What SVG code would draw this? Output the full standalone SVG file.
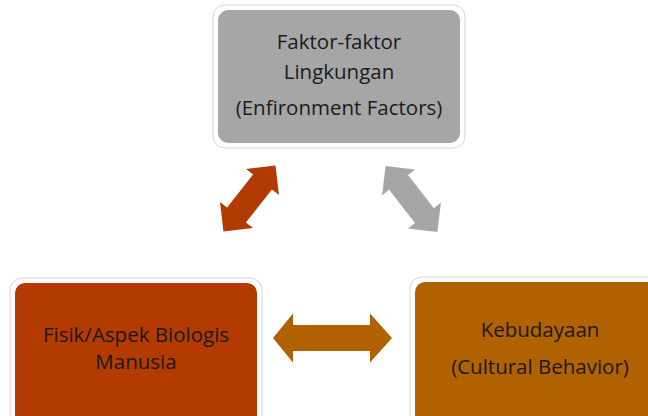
<svg xmlns="http://www.w3.org/2000/svg" width="648" height="416" viewBox="0 0 648 416">
<style>
.frame{fill:#ffffff;stroke:#d4d4d4;stroke-width:1}
.lbl{font-family:"Open Sans","Noto Sans","Liberation Sans",sans-serif;font-size:20.5px;text-anchor:middle;fill:#1a1a1a}
</style>
<defs>
<polygon id="dbl" points="-42,0 -21,-21 -21,-12 21,-12 21,-21 42,0 21,21 21,12 -21,12 -21,21"/>
</defs>
<rect width="648" height="416" fill="#ffffff"/>
<g id="node-env">
<rect class="frame" x="213" y="5" width="252" height="143" rx="12"/>
<rect x="218" y="10" width="242" height="133" rx="10" fill="#a6a6a6"/>
<text class="lbl" x="339" y="49" fill="#262626">Faktor-faktor</text>
<text class="lbl" x="339" y="79" fill="#262626">Lingkungan</text>
<text class="lbl" x="339" y="115" fill="#262626">(Enfironment Factors)</text>
</g>
<g id="node-bio">
<rect class="frame" x="10" y="278" width="252" height="150" rx="12"/>
<rect x="15" y="283" width="242" height="145" rx="10" fill="#b33a00"/>
<text class="lbl" x="136" y="342">Fisik/Aspek Biologis</text>
<text class="lbl" x="136" y="369">Manusia</text>
</g>
<g id="node-culture">
<rect class="frame" x="410" y="277" width="252" height="150" rx="12"/>
<rect x="415" y="282" width="242" height="145" rx="10" fill="#b06100"/>
<text class="lbl" x="540" y="337">Kebudayaan</text>
<text class="lbl" x="540" y="374">(Cultural Behavior)</text>
</g>
<g id="connectors">
<use href="#dbl" fill="#b33a00" transform="translate(249.5,198.5) rotate(-51.7)"/>
<use href="#dbl" fill="#a6a6a6" transform="translate(411.5,199) rotate(52)"/>
<polygon fill="#b06100" points="273,338 293,313.5 293,325 370,325 370,313.5 392,338 370,362.5 370,351 293,351 293,362.5"/>
</g>
</svg>
